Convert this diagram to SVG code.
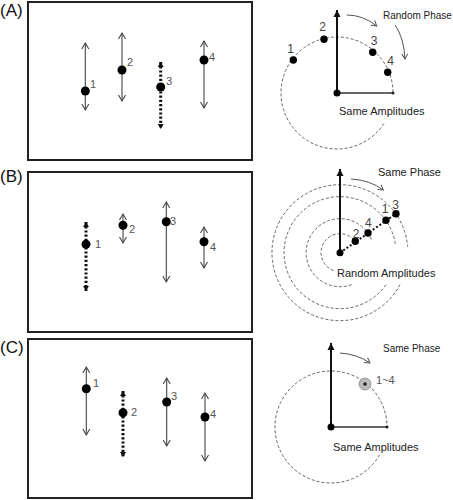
<svg xmlns="http://www.w3.org/2000/svg" width="453" height="500" viewBox="0 0 453 500">
<defs>
<style>
.box{fill:#fff;stroke:#222;stroke-width:2}
.arr{stroke:#444;stroke-width:1.1;fill:none;marker-start:url(#openV);marker-end:url(#openV)}
.dot-arr{stroke:#111;stroke-width:3;stroke-dasharray:2.2,2;fill:none;marker-start:url(#solidS);marker-end:url(#solidS)}
.pt{fill:#000}
.num{font-family:"Liberation Sans",Arial,sans-serif;font-size:11px;fill:#555}
.rnum{font-family:"Liberation Sans",Arial,sans-serif;font-size:12px;fill:#444;text-anchor:middle}
.lbl{font-family:"Liberation Sans",Arial,sans-serif;fill:#222}
.panel{font-family:"Liberation Sans",Arial,sans-serif;font-size:17px;fill:#111}
.axis{stroke:#111;stroke-width:2;fill:none;marker-end:url(#axisHead)}
.hline{stroke:#333;stroke-width:1.5;fill:none}
.dash{stroke:#666;stroke-width:1;stroke-dasharray:3,2;fill:none}
.curve{stroke:#555;stroke-width:1;fill:none;marker-end:url(#curveHead)}
</style>
<marker id="openV" viewBox="-8 -5 10 10" refX="0" refY="0" markerWidth="10" markerHeight="10" markerUnits="userSpaceOnUse" orient="auto-start-reverse">
<path d="M-6,-3.5 L0,0 L-6,3.5" fill="none" stroke="#444" stroke-width="1.1"/>
</marker>
<marker id="solidS" viewBox="-8 -5 10 10" refX="0" refY="0" markerWidth="10" markerHeight="10" markerUnits="userSpaceOnUse" orient="auto-start-reverse">
<path d="M-5,-3 L0,0 L-5,3 Z" fill="#111"/>
</marker>
<marker id="axisHead" viewBox="-9 -5 10 10" refX="0" refY="0" markerWidth="10" markerHeight="10" markerUnits="userSpaceOnUse" orient="auto">
<path d="M-7,-3.5 L0,0 L-7,3.5 Z" fill="#111"/>
</marker>
<marker id="curveHead" viewBox="-8 -5 10 10" refX="0" refY="0" markerWidth="10" markerHeight="10" markerUnits="userSpaceOnUse" orient="auto">
<path d="M-5,-3 L0,0 L-5,3" fill="none" stroke="#555" stroke-width="1"/>
</marker>
</defs>
<rect width="453" height="500" fill="#fff"/>

<!-- Panel labels -->
<text class="panel" x="0" y="16">(A)</text>
<text class="panel" x="0" y="182">(B)</text>
<text class="panel" x="0" y="353">(C)</text>

<!-- Boxes -->
<g id="boxA"><rect class="box" x="28" y="2" width="224" height="158"/></g>
<g id="boxB"><rect class="box" x="28" y="172" width="224" height="160"/></g>
<g id="boxC"><rect class="box" x="28" y="339" width="224" height="159"/></g>

<!-- Panel A left -->
<g id="A-osc">
<line class="arr" x1="85.3" y1="43" x2="85.3" y2="110"/>
<circle class="pt" cx="85.3" cy="91" r="4.5"/>
<text class="num" x="90" y="88">1</text>
<line class="arr" x1="122" y1="33" x2="122" y2="101"/>
<circle class="pt" cx="122" cy="70" r="4.5"/>
<text class="num" x="127" y="66">2</text>
<line class="dot-arr" x1="160.7" y1="62" x2="160.7" y2="129"/>
<circle class="pt" cx="160.7" cy="87" r="4.5"/>
<text class="num" x="166" y="85">3</text>
<line class="arr" x1="204" y1="41" x2="204" y2="108"/>
<circle class="pt" cx="204" cy="60" r="4.5"/>
<text class="num" x="209" y="61">4</text>
</g>

<!-- Panel A right -->
<g id="A-phasor">
<path class="dash" d="M383.97,123.5 A56,56 0 1 1 393,93"/>
<line class="axis" x1="337" y1="93" x2="337" y2="10"/>
<line class="hline" x1="337" y1="93" x2="393" y2="93"/>
<circle cx="393" cy="93" r="1.5" fill="#222"/>
<circle class="pt" cx="337" cy="93" r="3.5"/>
<circle class="pt" cx="293.3" cy="60" r="3.7"/>
<circle class="pt" cx="324" cy="39.3" r="3.7"/>
<circle class="pt" cx="372.7" cy="52.3" r="3.7"/>
<circle class="pt" cx="387.7" cy="72.3" r="3.7"/>
<text class="rnum" x="290.7" y="53">1</text>
<text class="rnum" x="322.7" y="31">2</text>
<text class="rnum" x="374" y="45">3</text>
<text class="rnum" x="390.7" y="65">4</text>
<path class="curve" d="M346.7,15 Q363,15 376.7,26"/>
<path class="curve" d="M395,25 Q404,38 405,59"/>
<text class="lbl" x="383" y="19" font-size="10">Random Phase</text>
<text class="lbl" x="339" y="115" font-size="11">Same Amplitudes</text>
</g>

<!-- Panel B left -->
<g id="B-osc">
<line class="dot-arr" x1="86" y1="222" x2="86" y2="291"/>
<circle class="pt" cx="86" cy="244.3" r="4.5"/>
<text class="num" x="95" y="248">1</text>
<line class="arr" x1="123" y1="214" x2="123" y2="243"/>
<circle class="pt" cx="123" cy="225.3" r="4.5"/>
<text class="num" x="129" y="233">2</text>
<line class="arr" x1="166.3" y1="202" x2="166.3" y2="282"/>
<circle class="pt" cx="166.3" cy="221.7" r="4.5"/>
<text class="num" x="170" y="225">3</text>
<line class="arr" x1="204" y1="227" x2="204" y2="268"/>
<circle class="pt" cx="204" cy="241.7" r="4.5"/>
<text class="num" x="210" y="251">4</text>
</g>

<!-- Panel B right -->
<g id="B-phasor">
<path class="dash" d="M333.4,270.5 A19,19 0 1 1 356.5,243.2"/>
<path class="dash" d="M351.6,284.7 A34,34 0 1 1 372.1,241.1"/>
<path class="dash" d="M385.9,284.8 A56,56 0 1 1 395.5,244.9"/>
<path class="dash" d="M400,284.6 A68,68 0 1 1 407.7,246.8"/>
<line class="axis" x1="340" y1="252.7" x2="340" y2="169"/>
<line x1="340" y1="252.7" x2="396" y2="213.7" stroke="#111" stroke-width="2" stroke-dasharray="2,2"/>
<circle class="pt" cx="340" cy="252.7" r="3.5"/>
<circle class="pt" cx="355.3" cy="241.3" r="3.7"/>
<circle class="pt" cx="368" cy="233" r="3.7"/>
<circle class="pt" cx="386" cy="220.3" r="3.7"/>
<circle class="pt" cx="396" cy="213.7" r="3.7"/>
<text class="rnum" x="356" y="238">2</text>
<text class="rnum" x="368.3" y="227">4</text>
<text class="rnum" x="385" y="213">1</text>
<text class="rnum" x="395.7" y="209">3</text>
<path class="curve" d="M351,179 Q370,180 383.3,190"/>
<text class="lbl" x="378" y="176" font-size="11">Same Phase</text>
<text class="lbl" x="337" y="277" font-size="11">Random Amplitudes</text>
</g>

<!-- Panel C left -->
<g id="C-osc">
<line class="arr" x1="86.3" y1="367" x2="86.3" y2="435"/>
<circle class="pt" cx="86.3" cy="388.7" r="4.5"/>
<text class="num" x="93" y="387">1</text>
<line class="dot-arr" x1="123" y1="391" x2="123" y2="457"/>
<circle class="pt" cx="123" cy="412.7" r="4.5"/>
<text class="num" x="131" y="416">2</text>
<line class="arr" x1="166.7" y1="378" x2="166.7" y2="446"/>
<circle class="pt" cx="166.7" cy="402" r="4.5"/>
<text class="num" x="171" y="400">3</text>
<line class="arr" x1="205" y1="393" x2="205" y2="461"/>
<circle class="pt" cx="205" cy="417" r="4.5"/>
<text class="num" x="210" y="418">4</text>
</g>

<!-- Panel C right -->
<g id="C-phasor">
<path class="dash" d="M379.5,455 A56,56 0 1 1 387,427"/>
<line class="axis" x1="331" y1="427" x2="331" y2="343"/>
<line class="hline" x1="331" y1="427" x2="387" y2="427"/>
<circle cx="387" cy="427" r="1.5" fill="#222"/>
<circle class="pt" cx="331" cy="427" r="3.5"/>
<circle cx="365" cy="384" r="6" fill="#bbb" stroke="#999" stroke-width="1"/>
<circle cx="365" cy="384" r="1.8" fill="#222"/>
<text class="num" x="376" y="384">1~4</text>
<path class="curve" d="M340,353 Q357,354 370,363"/>
<text class="lbl" x="383" y="352" font-size="10">Same Phase</text>
<text class="lbl" x="333" y="451" font-size="11">Same Amplitudes</text>
</g>
</svg>
